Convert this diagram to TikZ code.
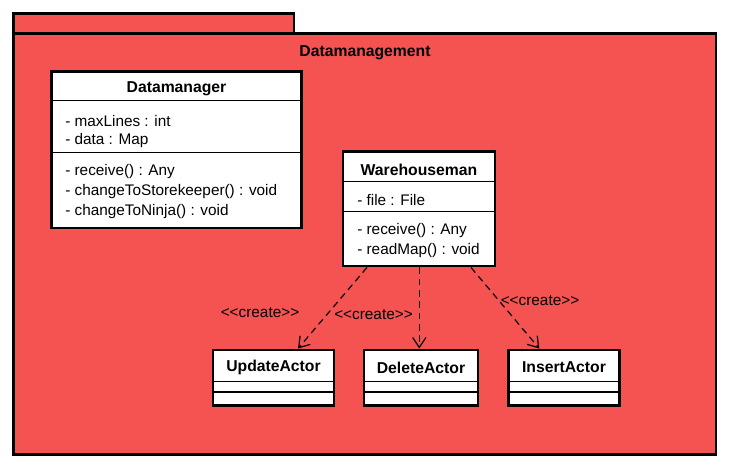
\documentclass[tikz,border=0pt]{standalone}
\usepackage{fontspec}
\setmainfont{Liberation Sans}
\usepackage{xcolor}
\usepackage{tikz}
\usetikzlibrary{arrows.meta, positioning, calc, fit}

\definecolor{pkgred}{RGB}{245,82,82}
\newcommand{\stereo}[1]{<\kern0pt<#1>\kern0pt>}

\begin{document}
\begin{tikzpicture}[x=0.75pt, y=-0.75pt,
        font=\fontsize{11.5}{14}\selectfont,
        pkg/.style={draw, line width=2.2pt, fill=pkgred, inner sep=0pt},
        cls/.style={draw, line width=2.2pt, fill=white, inner sep=0pt},
        title/.style={font=\fontsize{11.8}{14}\selectfont\bfseries, inner sep=0pt},
        member/.style={anchor=west, inner sep=0pt},
        sep/.style={line width=0.8pt},
        create/.style={dash pattern=on 5pt off 3.5pt, line width=0.9pt, -{Straight Barb[length=7.5pt, width=10pt]}},
        lbl/.style={inner sep=0pt}
    ]
        \useasboundingbox (0,0) rectangle (729,468);

        % Package
        \node[pkg, fit={(13.5,13.7) (294,33.7)}] (tab) {};
        \node[pkg, fit={(13.5,33.7) (716,454.5)}] (frame) {};
        \node[title] (pkgname) at (365,53) {Datamanagement};

        % Datamanager
        \node[cls, fit={(51.5,71.5) (301.5,228)}] (dm) {};
        \node[title] (dmtitle) at (176.5,89) {Datamanager};
        \draw[sep] (dm.west |- 0,100.7) -- (dm.east |- 0,100.7);
        \draw[sep] (dm.west |- 0,152.3) -- (dm.east |- 0,152.3);
        \node[member] (dm1) at (65,121) {- maxLines : int};
        \node[member] (dm2) at (65,141) {- data : Map};
        \node[member] (dm3) at (65,171.5) {- receive() : Any};
        \node[member] (dm4) at (65,191.5) {- changeToStorekeeper() : void};
        \node[member] (dm5) at (65,211.5) {- changeToNinja() : void};

        % Warehouseman
        \node[cls, fit={(343,151.5) (495,266)}] (wh) {};
        \node[title] (whtitle) at (419,169.5) {Warehouseman};
        \draw[sep] (wh.west |- 0,181.7) -- (wh.east |- 0,181.7);
        \draw[sep] (wh.west |- 0,211.7) -- (wh.east |- 0,211.7);
        \node[member] (wh1) at (357,200) {- file : File};
        \node[member] (wh2) at (357,231) {- receive() : Any};
        \node[member] (wh3) at (357,251) {- readMap() : void};

        % Actors
        \node[cls, fit={(213,350) (334,405.5)}] (upd) {};
        \node[cls, fit={(364,350) (478,405.5)}] (del) {};
        \node[cls, fit={(508.5,350) (619.5,405.5)}] (ins) {};
        \node[title] (updtitle) at (273.5,367.5) {UpdateActor};
        \node[title] (deltitle) at (421,367.5) {DeleteActor};
        \node[title] (institle) at (564,367.5) {InsertActor};
        \foreach \c in {upd, del, ins} {
            \draw[sep] (\c.west |- 0,381.7) -- (\c.east |- 0,381.7);
            \draw[sep] (\c.west |- 0,392) -- (\c.east |- 0,392);
        }

        % Dependencies
        \draw[create] (wh.south -| 367,0) -- (upd.north -| 298,0);
        \draw[create] (wh.south -| 419.3,0) -- (del.north -| 419.3,0);
        \draw[create] (wh.south -| 471,0) -- (ins.north -| 539.3,0);
        \node[lbl] (lbl1) at (260,313) {\stereo{create}};
        \node[lbl] (lbl2) at (373.5,314.5) {\stereo{create}};
        \node[lbl] (lbl3) at (540,301) {\stereo{create}};
    \end{tikzpicture}
\end{document}
